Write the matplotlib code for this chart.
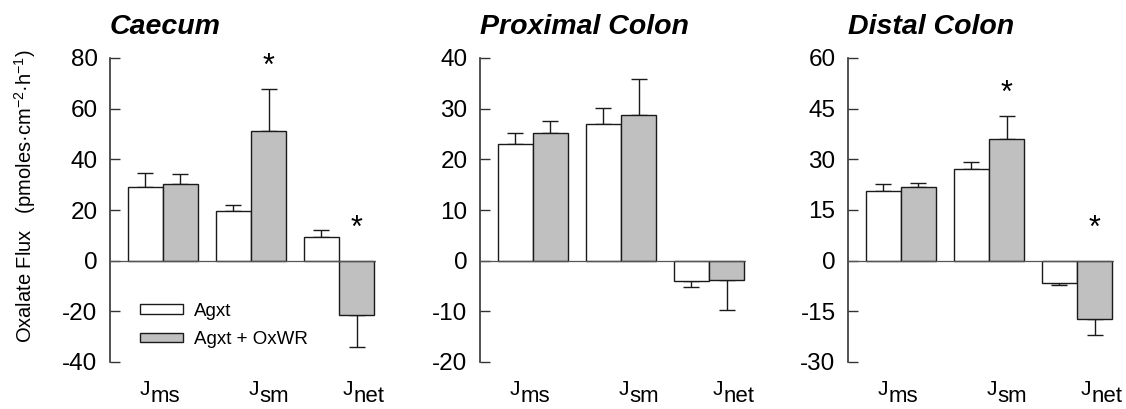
"""Oxalate flux in caecum, proximal and distal colon (Agxt vs Agxt + OxWR)."""

import matplotlib
matplotlib.use("Agg")
import matplotlib.pyplot as plt
import numpy as np
from matplotlib.patches import Patch
from matplotlib.transforms import blended_transform_factory

plt.rcParams["font.family"] = ["Liberation Sans", "DejaVu Sans"]
plt.rcParams["axes.unicode_minus"] = False
plt.rcParams["mathtext.fontset"] = "custom"
plt.rcParams["mathtext.rm"] = "Liberation Sans"
plt.rcParams["mathtext.it"] = "Liberation Sans:italic"
plt.rcParams["mathtext.bf"] = "Liberation Sans:bold"

# data
categories = ["ms", "sm", "net"]  # subscripts of J
series_names = ["Agxt", "Agxt + OxWR"]
panel_titles = ["Caecum", "Proximal Colon", "Distal Colon"]

caecum_agxt = [29.0, 19.5, 9.3]
caecum_agxt_err = [5.6, 2.6, 2.8]
caecum_oxwr = [30.3, 51.1, -21.3]
caecum_oxwr_err = [3.9, 16.5, 12.9]

proximal_agxt = [23.0, 27.0, -4.1]
proximal_agxt_err = [2.2, 3.1, 1.0]
proximal_oxwr = [25.2, 28.8, -3.8]
proximal_oxwr_err = [2.4, 7.1, 5.9]

distal_agxt = [20.5, 27.0, -6.7]
distal_agxt_err = [2.1, 2.1, 0.5]
distal_oxwr = [21.7, 35.9, -17.4]
distal_oxwr_err = [1.4, 6.9, 4.5]

# significance (* over the OxWR bar)
caecum_sig = [1, 2]
proximal_sig = []
distal_sig = [1, 2]

caecum_ticks = [-40, -20, 0, 20, 40, 60, 80]
proximal_ticks = [-20, -10, 0, 10, 20, 30, 40]
distal_ticks = [-30, -15, 0, 15, 30, 45, 60]

panels = [
    (caecum_agxt, caecum_agxt_err, caecum_oxwr, caecum_oxwr_err, caecum_sig, caecum_ticks),
    (proximal_agxt, proximal_agxt_err, proximal_oxwr, proximal_oxwr_err, proximal_sig, proximal_ticks),
    (distal_agxt, distal_agxt_err, distal_oxwr, distal_oxwr_err, distal_sig, distal_ticks),
]

# layout (pixels of a 1126x409 canvas)
W, H = 1126, 409
axes_left = [110, 480, 848]
axes_width = 266
axes_bottom = H - 362
axes_height = 304
label_x = [-0.26, 0.97, 2.04]  # left edge of each "J" label

bar_w = 0.4
colors = ["white", "#c0c0c0"]
edge = "#1a1a1a"


def one_sided(means, errs):
    means = np.asarray(means)
    errs = np.asarray(errs)
    lower = np.where(means < 0, errs, 0)
    upper = np.where(means >= 0, errs, 0)
    return [lower, upper]


fig = plt.figure(figsize=(W / 100, H / 100), dpi=100)
x = np.arange(len(categories))

for i, (a, a_err, o, o_err, sig, ticks) in enumerate(panels):
    ax = fig.add_axes([axes_left[i] / W, axes_bottom / H, axes_width / W, axes_height / H])

    for means, errs, xs, col in [(a, a_err, x - bar_w / 2, colors[0]),
                                 (o, o_err, x + bar_w / 2, colors[1])]:
        ax.bar(xs, means, width=bar_w, color=col, edgecolor=edge, linewidth=1.0, zorder=2)
        ax.errorbar(xs, means, yerr=one_sided(means, errs), fmt="none", ecolor=edge,
                    elinewidth=1.0, capsize=6, capthick=1.0, zorder=1)

    ax.axhline(0, color="#555555", linewidth=0.9, zorder=3)

    for g in sig:
        top = o[g] + o_err[g] if o[g] >= 0 else 0
        off = 16 if o[g] >= 0 else 23
        ax.annotate("*", xy=(x[g] + bar_w / 2, top), xytext=(0, off),
                    textcoords="offset points", ha="center", va="center", fontsize=22)

    ax.set_xlim(-0.6, 2.42)
    ax.set_ylim(ticks[0], ticks[-1])
    ax.set_yticks(ticks)
    ax.set_xticks([])
    for side in ["top", "right", "bottom"]:
        ax.spines[side].set_visible(False)
    ax.spines["left"].set_color("#333333")
    ax.spines["left"].set_linewidth(1.2)
    ax.tick_params(axis="y", direction="in", length=7, width=1.0, color="#333333",
                   labelsize=17.5, pad=9)

    # J with subscript, drawn as two texts so the subscript can stay large
    trans = blended_transform_factory(ax.transData, ax.transAxes)
    for lx, sub in zip(label_x, categories):
        ax.text(lx, -0.108, "J", transform=trans, ha="left", va="baseline", fontsize=15)
        ax.annotate(sub, xy=(lx, -0.108), xycoords=trans, xytext=(8.0, -5),
                    textcoords="offset points", ha="left", va="baseline", fontsize=16)

    ax.set_title(panel_titles[i], loc="left", fontsize=20.5, fontweight="bold",
                 fontstyle="italic", pad=17)

    if i == 0:
        handles = [Patch(facecolor=c, edgecolor=edge, linewidth=1.0) for c in colors]
        ax.legend(handles, series_names, loc="center left", bbox_to_anchor=(0.113, 0.12),
                  frameon=False, fontsize=13.5, handlelength=2.3, handleheight=0.4,
                  handletextpad=0.6, labelspacing=0.6, borderpad=0, borderaxespad=0)

fig.text(25 / W, 1 - 196 / H, "Oxalate Flux   (pmoles·cm$^{-2}$·h$^{-1}$)",
         rotation=90, ha="center", va="center", fontsize=14.5)

fig.savefig("out.png", dpi=100)
